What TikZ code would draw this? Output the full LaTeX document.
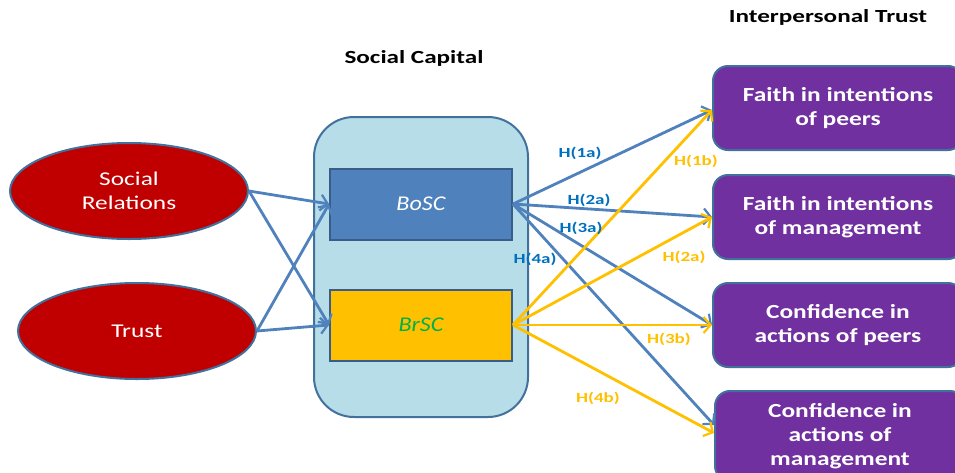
\documentclass[tikz,border=0pt]{standalone}
\usepackage{fontspec}
\setmainfont{Carlito}
% widened cuts of the same face
\newfontfamily\widehead[FakeStretch=1.36]{Carlito}
\newfontfamily\widebox[FakeStretch=1.27]{Carlito}
\newfontfamily\wideoval[FakeStretch=1.3]{Carlito}
\newfontfamily\widecap[FakeStretch=1.15]{Carlito}
\usetikzlibrary{arrows.meta,shapes.geometric}
\definecolor{edgeblue}{HTML}{41719C}
\definecolor{linkblue}{HTML}{4F81BD}
\definecolor{labblue}{HTML}{0070C0}
\definecolor{gold}{HTML}{FFC000}
\definecolor{darkred}{HTML}{C00000}
\definecolor{paleblue}{HTML}{B7DDE8}
\definecolor{bondblue}{HTML}{4F81BD}
\definecolor{bondedge}{HTML}{385D8A}
\definecolor{purple}{HTML}{7030A0}
\definecolor{bridgegreen}{HTML}{00B050}
\tikzset{
  antecedent/.style={ellipse, draw=edgeblue, line width=2pt, fill=darkred,
    text=white, font=\wideoval\fontsize{19.5}{24}\selectfont, align=center,
    minimum width=238pt, minimum height=96pt, inner sep=0pt},
  capbox/.style={rectangle, draw=bondedge, line width=2pt,
    minimum width=182pt, minimum height=71pt, font=\widecap\itshape\fontsize{21}{24}\selectfont},
  outcome/.style={rectangle, rounded corners=15pt, draw=edgeblue, line width=2pt,
    fill=purple, text=white, font=\widebox\bfseries\fontsize{20}{24}\selectfont,
    align=center, minimum width=250pt, minimum height=84pt, inner sep=0pt},
  heading/.style={font=\widehead\bfseries\fontsize{18.5}{20}\selectfont},
  bluelink/.style={draw=linkblue, line width=2.8pt,
    -{Straight Barb[length=7pt,width=16pt,line width=2.2pt]}},
  goldlink/.style={draw=gold, line width=2.8pt,
    -{Straight Barb[length=7pt,width=16pt,line width=2.2pt]}},
  hblue/.style={text=labblue, font=\widehead\bfseries\fontsize{14}{16}\selectfont},
  hgold/.style={text=gold, font=\widehead\bfseries\fontsize{14}{16}\selectfont},
}
\begin{document}
\begin{tikzpicture}[x=1pt,y=-1pt]
\useasboundingbox (0,0) rectangle (955,472);

% headings
\node[heading] (capt) at (414,58) {Social Capital};
\node[heading] (trustt) at (828,17) {Interpersonal Trust};

% antecedents
\node[antecedent] (sr) at (129,191) {Social\\Relations};
\node[antecedent] (tr) at (137,331) {Trust};

% social capital container and its two parts
\node[rectangle, rounded corners=40pt, draw=edgeblue, line width=2pt, fill=paleblue,
      minimum width=214pt, minimum height=300pt] (sc) at (421,267) {};
\node[capbox, fill=bondblue, text=white] (bosc) at (421,204) {BoSC};
\node[capbox, fill=gold, text=bridgegreen] (brsc) at (421,325) {BrSC};

% outcomes
\node[outcome] (p1) at (838,108) {Faith in intentions\\of peers};
\node[outcome] (p2) at (838,217) {Faith in intentions\\of management};
\node[outcome] (p3) at (838,325) {Confidence in\\actions of peers};
\node[outcome, minimum height=90pt] (p4) at (840,436) {Confidence in\\actions of\\management};

% antecedents to social capital
\draw[bluelink] (sr.east) -- (bosc.west);
\draw[bluelink] (sr.east) -- (brsc.west);
\draw[bluelink] (tr.east) -- (bosc.west);
\draw[bluelink] (tr.east) -- (brsc.west);

% bonding paths
\draw[bluelink] (bosc.east) -- ([yshift=-2pt]p1.west);
\draw[bluelink] (bosc.east) -- (p2.west);
\draw[bluelink] (bosc.east) -- (p3.west);
\draw[bluelink] (bosc.east) -- ([yshift=11pt]p4.west);

% bridging paths
\draw[goldlink] (brsc.east) -- ([yshift=-2pt]p1.west);
\draw[goldlink] (brsc.east) -- (p2.west);
\draw[goldlink] (brsc.east) -- (p3.west);
\draw[goldlink] (brsc.east) -- ([yshift=3pt]p4.west);

% hypothesis labels
\node[hblue] (h1a) at (580,153) {H(1a)};
\node[hblue] (h2a) at (589,200) {H(2a)};
\node[hblue] (h3a) at (581,228) {H(3a)};
\node[hblue] (h4a) at (535,259) {H(4a)};
\node[hgold] (h1b) at (696,161) {H(1b)};
\node[hgold] (h2b) at (684,257) {H(2a)};
\node[hgold] (h3b) at (669,339) {H(3b)};
\node[hgold] (h4b) at (598,398) {H(4b)};
\end{tikzpicture}
\end{document}
